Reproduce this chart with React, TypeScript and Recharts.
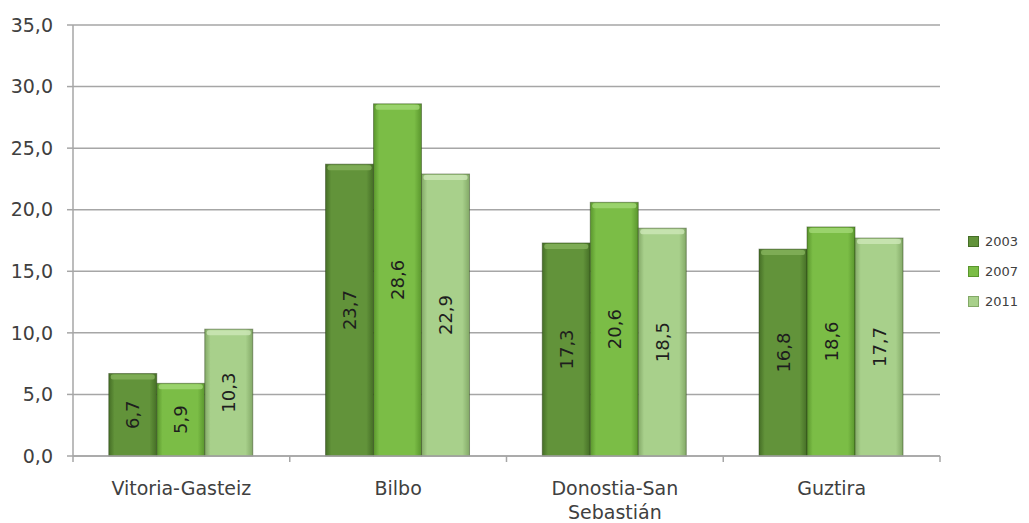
import React from 'react'
import { BarChart, Bar, XAxis, YAxis, CartesianGrid, Legend, LabelList } from 'recharts';

const cities = ['Vitoria-Gasteiz', 'Bilbo', 'Donostia-San Sebastián', 'Guztira'];
const v2003 = [6.7, 23.7, 17.3, 16.8];
const v2007 = [5.9, 28.6, 20.6, 18.6];
const v2011 = [10.3, 22.9, 18.5, 17.7];
const yTicks = [0, 5, 10, 15, 20, 25, 30, 35];

const data = cities.map((c, i) => ({ city: c, y2003: v2003[i], y2007: v2007[i], y2011: v2011[i] }));

const series = [
  { key: 'y2003', name: '2003', id: 'g3', dark: '#456e26', mid: '#62933a', light: '#86b35c' },
  { key: 'y2007', name: '2007', id: 'g7', dark: '#5a962d', mid: '#7bbd46', light: '#a3d875' },
  { key: 'y2011', name: '2011', id: 'g11', dark: '#83a967', mid: '#a8d08b', light: '#cde7b8' },
];

const font = '"DejaVu Sans", Verdana, sans-serif';
const fmt = (v: number) => v.toFixed(1).replace('.', ',');
const halfBand = (940 - 73) / cities.length / 2;

function BevelBar(props: any) {
  const { x, y, width, height, gid, light } = props;
  if (!height || height <= 0) return null;
  return (
    <g>
      <rect x={x} y={y} width={width} height={height} fill={`url(#${gid})`} stroke="rgba(40,60,20,0.45)" strokeWidth={1} />
      <rect x={x + 2} y={y + 1} width={width - 4} height={5} fill={light} opacity={0.8} rx={2} />
    </g>
  );
}

function ValueLabel(props: any) {
  const { x, y, width, height, value } = props;
  const cx = x + width / 2;
  const cy = y + height / 2;
  return (
    <text x={cx} y={cy} transform={`rotate(-90 ${cx} ${cy})`} textAnchor="middle" dominantBaseline="central"
      fontSize={18} fill="#1e1e1e" fontFamily={font}>
      {fmt(value)}
    </text>
  );
}

function CityTick(props: any) {
  const { x, y, payload, index } = props;
  const label: string = payload.value;
  const lines = label === 'Donostia-San Sebastián' ? ['Donostia-San', 'Sebastián'] : [label];
  const axisY = y - 8;
  return (
    <g>
      {index === 0 && <line x1={x - halfBand} x2={x - halfBand} y1={axisY} y2={axisY + 6} stroke="#a6a6a6" strokeWidth={1.5} />}
      <line x1={x + halfBand} x2={x + halfBand} y1={axisY} y2={axisY + 6} stroke="#a6a6a6" strokeWidth={1.5} />
      <text x={x} y={y} textAnchor="middle" fontSize={19} fill="#404040" fontFamily={font}>
        {lines.map((l, i) => (
          <tspan key={i} x={x} dy={i === 0 ? 31 : 24}>{l}</tspan>
        ))}
      </text>
    </g>
  );
}

function LegendBox() {
  return (
    <div style={{ fontFamily: font, fontSize: 13, color: '#404040' }}>
      {series.map((s) => (
        <div key={s.key} style={{ display: 'flex', alignItems: 'center', height: 30 }}>
          <span style={{ width: 9, height: 9, background: s.mid, border: `1px solid ${s.dark}`, marginRight: 6, display: 'inline-block' }} />
          {s.name}
        </div>
      ))}
    </div>
  );
}

export default function App() {
  return (
    <div style={{ position: 'absolute', left: 0, top: 0, background: '#fff', width: 1029, height: 523 }}>
      <BarChart width={1029} height={523} data={data} margin={{ top: 25, right: 29, left: 0, bottom: 0 }}
        barCategoryGap="16.5%" barGap={0} style={{ overflow: 'visible' }}>
        <defs>
          {series.map((s) => (
            <linearGradient key={s.id} id={s.id} x1="0" y1="0" x2="1" y2="0">
              <stop offset="0%" stopColor={s.dark} />
              <stop offset="12%" stopColor={s.mid} />
              <stop offset="85%" stopColor={s.mid} />
              <stop offset="100%" stopColor={s.dark} />
            </linearGradient>
          ))}
        </defs>
        <CartesianGrid vertical={false} stroke="#a6a6a6" strokeWidth={1.5} />
        <XAxis dataKey="city" height={67} axisLine={{ stroke: '#a6a6a6', strokeWidth: 1.5 }} tickLine={false}
          tick={<CityTick />} interval={0} />
        <YAxis width={73} domain={[0, 35]} ticks={yTicks} tickFormatter={fmt} tickMargin={14}
          axisLine={{ stroke: '#a6a6a6', strokeWidth: 1.5 }} tickLine={{ stroke: '#a6a6a6', strokeWidth: 1.5 }}
          tick={{ fontSize: 19, fill: '#404040', fontFamily: font }} />
        <Legend layout="vertical" align="right" verticalAlign="top" content={<LegendBox />}
          wrapperStyle={{ position: 'absolute', left: 968, top: 226, width: 60 }} />
        {series.map((s) => (
          <Bar key={s.key} dataKey={s.key} name={s.name} isAnimationActive={false}
            shape={(p: any) => <BevelBar {...p} gid={s.id} light={s.light} />}>
            <LabelList dataKey={s.key} content={<ValueLabel />} />
          </Bar>
        ))}
      </BarChart>
    </div>
  );
}
